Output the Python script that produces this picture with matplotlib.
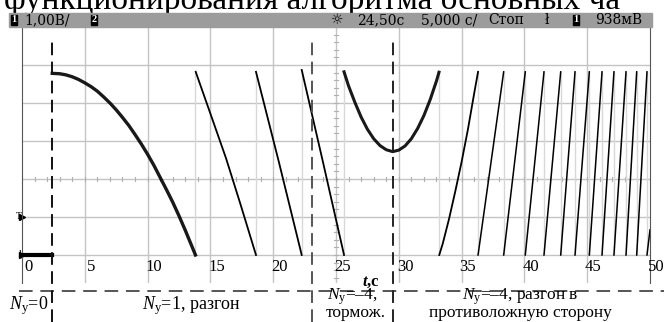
import numpy as np
import matplotlib.pyplot as plt
from matplotlib.patches import Rectangle

plt.rcParams['font.family'] = ['Liberation Serif', 'DejaVu Sans']
plt.rcParams['mathtext.fontset'] = 'custom'
plt.rcParams['mathtext.rm'] = 'Liberation Serif'
plt.rcParams['mathtext.it'] = 'Liberation Serif:italic'
plt.rcParams['mathtext.bf'] = 'Liberation Serif:bold'
plt.rcParams['mathtext.bfit'] = 'Liberation Serif:italic:bold'

#%% scope trace, t in s, U in V
t_idle = [0.0, 2.41]
v_idle = [0.0, 0.0]

# first turn after start (N=1)
t_run1 = [2.41, 3.0, 3.5, 4.0, 4.5, 5.0, 5.5, 6.0, 6.5, 7.0, 7.5, 8.0, 8.5,
          9.0, 9.5, 10.0, 10.5, 11.0, 11.5, 12.0, 12.5, 13.0, 13.5, 13.81]
v_run1 = [4.78, 4.77, 4.74, 4.69, 4.62, 4.53, 4.43, 4.31, 4.16, 4.00, 3.82,
          3.62, 3.41, 3.17, 2.92, 2.65, 2.36, 2.04, 1.72, 1.39, 1.03, 0.65,
          0.25, 0.0]

t_run2 = [13.83, 15.0, 16.24, 17.4, 18.63]
v_run2 = [4.82, 3.72, 2.55, 1.33, 0.0]
t_run3 = [18.63, 20.45, 22.27]
v_run3 = [4.82, 2.45, 0.0]
t_run4 = [22.27, 23.96, 25.64]
v_run4 = [4.87, 2.45, 0.0]

# braking down to stop and back (N=-4)
t_brake = [25.64, 26.0, 26.5, 27.0, 27.5, 28.0, 28.5, 29.0, 29.51, 30.0, 30.5,
           31.0, 31.5, 32.0, 32.5, 33.0, 33.20]
v_brake = [4.82, 4.45, 4.02, 3.63, 3.31, 3.06, 2.88, 2.77, 2.72, 2.76, 2.87,
           3.06, 3.33, 3.67, 4.09, 4.58, 4.81]

t_rise1 = [33.22, 33.5, 34.0, 34.5, 35.0, 35.5, 36.0, 36.31]
v_rise1 = [0.0, 0.3, 0.95, 1.68, 2.45, 3.3, 4.25, 4.82]

# turn wraps while speeding up the other way
t_wrap = [36.31, 38.35, 40.07, 41.56, 42.89, 44.03, 45.17, 46.18, 47.13,
          48.09, 48.94, 49.76]
v_top = 4.82
t_last = [49.76, 50.0]
v_last = [0.0, 0.66]

t_jump = [13.81, 18.63, 22.27, 25.64, 33.22] + t_wrap

t_phase = [2.39, 23.05, 29.5]
phase_col = ['#111111', '#555555', '#222222']

xticks = [0, 5, 10, 15, 20, 25, 30, 35, 40, 45, 50]

#%%
fig = plt.figure(figsize=(6.64, 3.22), dpi=100)
ax = fig.add_axes([22/664, 39/322, 628/664, 256/322])
ax.set_xlim(0, 50)
ax.set_ylim(-0.737, 6.0)

for x in xticks[1:-1]:
    ax.axvline(x, color='#c4c4c4', lw=1.0, zorder=1)
for y in range(0, 6):
    ax.axhline(y, color='#c4c4c4', lw=1.0, zorder=1)

# minor ticks on the centre cross
for x in np.arange(0, 50.01, 1):
    ax.plot([x, x], [1.95, 2.05], color='#b0b0b0', lw=0.8, zorder=1)
for y in np.arange(-0.6, 6.0, 0.2):
    ax.plot([24.85, 25.15], [y, y], color='#b0b0b0', lw=0.8, zorder=1)

for s in ['top', 'bottom']:
    ax.spines[s].set_visible(False)
for s in ['left', 'right']:
    ax.spines[s].set_color('#555555')
ax.set_xticks([])
ax.set_yticks([])

ax.vlines(t_jump, 0, v_top, color='#d8d8d8', lw=1.0, zorder=2)

ax.plot(t_idle, v_idle, color='black', lw=3.0, zorder=3)
ax.plot(t_run1, v_run1, color='black', lw=2.4, alpha=0.9, zorder=3)
for tt, vv in [(t_run2, v_run2), (t_run3, v_run3), (t_run4, v_run4)]:
    ax.plot(tt, vv, color='black', lw=1.3, zorder=3)
ax.plot(t_brake, v_brake, color='black', lw=2.2, alpha=0.9, zorder=3)
ax.plot(t_rise1, v_rise1, color='black', lw=1.3, zorder=3)
for a, b in zip(t_wrap[:-1], t_wrap[1:]):
    ax.plot([a, b], [0, v_top], color='black', lw=1.1, zorder=3)
ax.plot(t_last, v_last, color='black', lw=1.1, zorder=3)

for x in xticks:
    ax.text(x + 0.5, -0.32, str(x), ha='center', va='center', fontsize=12)

ax.text(0, 0, '1', ha='right', va='center', fontsize=7)
ax.text(0, 1.0, 'T', ha='right', va='center', fontsize=7)
ax.plot([0], [0], marker='>', ms=4, color='black', clip_on=False)
ax.plot([0], [1.0], marker='>', ms=4, color='black', clip_on=False)

# phase borders
for x, c in zip(t_phase, phase_col):
    ax.axvline(x, ymin=-0.152, ymax=0.96, color=c, lw=1.4,
               dashes=(6.5, 3.3), clip_on=False, zorder=4)
ax.axhline(-0.96, xmin=-0.004, xmax=1.022, color='#555555', lw=1.4,
           dashes=(7, 4), clip_on=False)

ax.text(27.8, -0.72, r'$\mathbfit{t}$,c', ha='center', va='center',
        fontsize=12, fontweight='bold')
ax.text(0.55, -1.32, r'$N_\mathrm{у}$=0', ha='center', va='center', fontsize=13)
ax.text(13.5, -1.32, r'$N_\mathrm{у}$=1, разгон', ha='center', va='center',
        fontsize=13)
ax.text(26.3, -1.1, r'$N_\mathrm{у}$=–4,', ha='center', va='center',
        fontsize=12.5)
ax.text(26.6, -1.53, 'тормож.', ha='center', va='center', fontsize=12.5)
ax.text(39.7, -1.1, r'$N_\mathrm{у}$=–4, разгон в', ha='center',
        va='center', fontsize=12.5)
ax.text(39.7, -1.53, 'противоложную сторону', ha='center', va='center',
        fontsize=12.5)

# status bar of the scope
fig.patches.append(Rectangle((9/664, 295/322), 643/664, 14/322,
                             transform=fig.transFigure, color='#9c9c9c',
                             zorder=5))
box = dict(boxstyle='square,pad=0.05', fc='black', ec='black')
bar = dict(fontsize=10, va='center', family=['DejaVu Serif'], zorder=6)
fig.text(14/664, 302/322, '1', color='white', fontsize=7.5, fontweight='bold',
         ha='center', va='center', bbox=box, zorder=6)
fig.text(24/664, 302/322, '1,00В/', **bar)
fig.text(94/664, 302/322, '2', color='white', fontsize=7.5, fontweight='bold',
         ha='center', va='center', bbox=box, zorder=6)
fig.text(331/664, 302/322, '☼', fontsize=10, va='center',
         family='DejaVu Sans', zorder=6)
fig.text(357/664, 302/322, '24,50c', **bar)
fig.text(421/664, 302/322, '5,000 c/', **bar)
fig.text(488/664, 302/322, 'Стоп', **bar)
fig.text(545/664, 302/322, 'ł', **bar)
fig.text(576/664, 302/322, '1', color='white', fontsize=7.5, fontweight='bold',
         ha='center', va='center', bbox=box, zorder=6)
fig.text(595/664, 302/322, '938мВ', **bar)

fig.text(4/664, 1 - 9.5/322, 'функционирования алгоритма основных ча',
         fontsize=24, va='baseline', zorder=1)

fig.savefig('out.png', dpi=100)
